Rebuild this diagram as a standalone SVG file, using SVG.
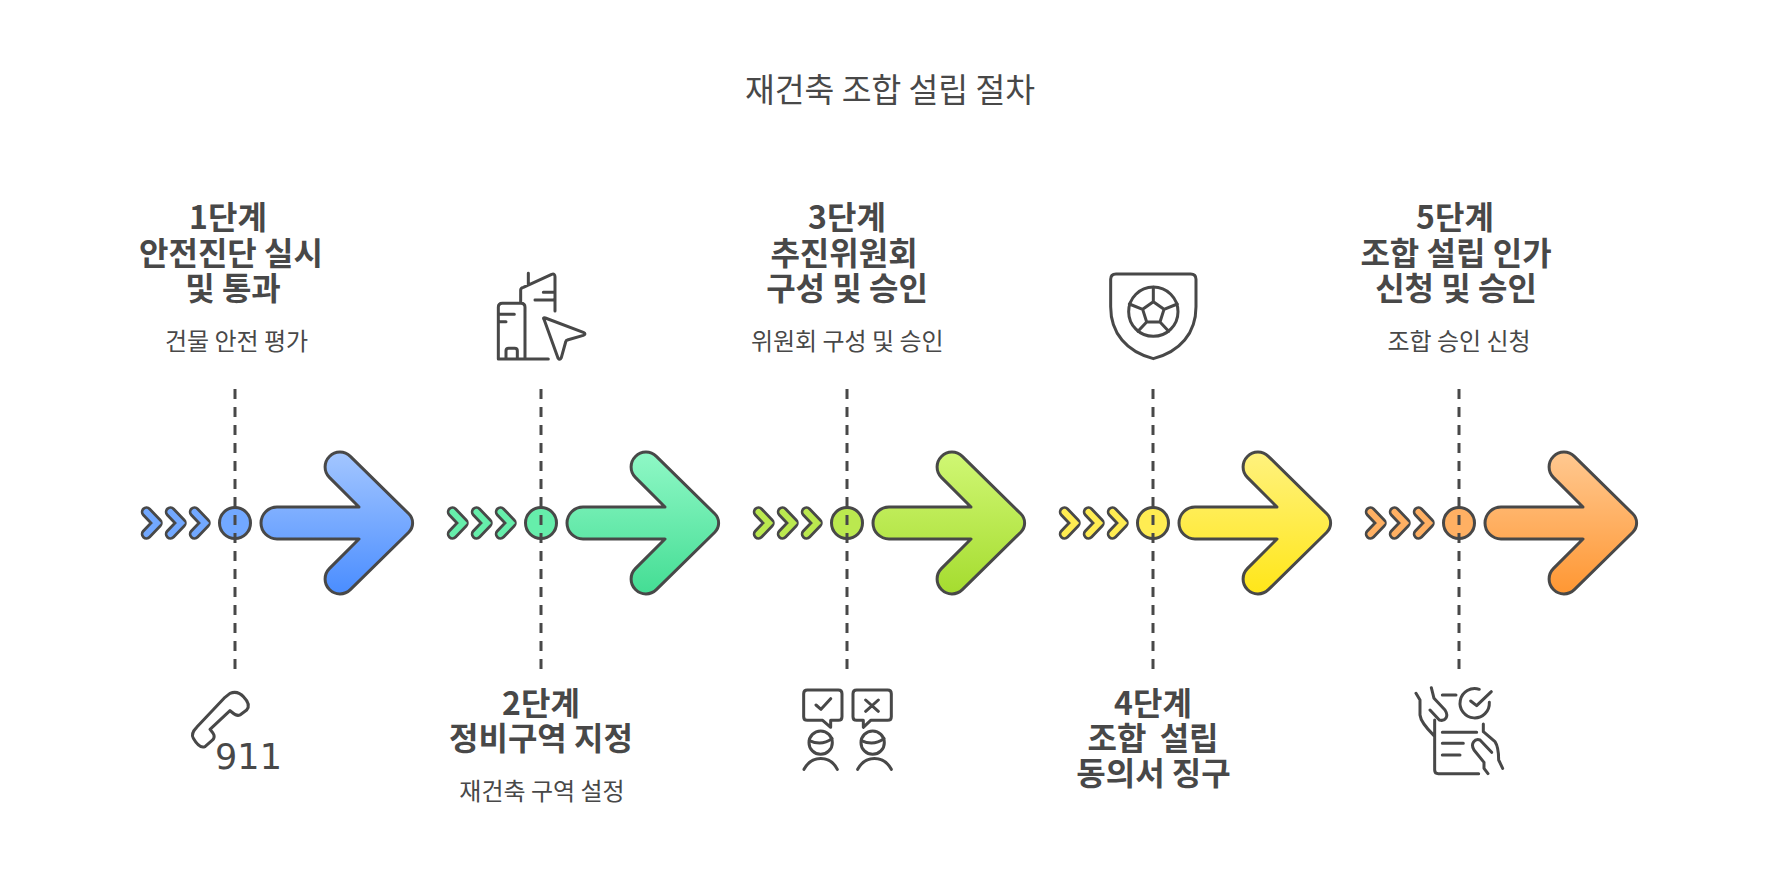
<svg xmlns="http://www.w3.org/2000/svg" width="1779" height="885" viewBox="0 0 1779 885">
<style>
text{font-family:"Noto Sans CJK KR","Noto Sans",sans-serif;fill:#484848;text-anchor:middle}
.t{font-size:32.400px}.h{font-size:32px;font-weight:700}.s{font-size:24px}
.o{stroke:#484848;stroke-width:3;stroke-linecap:round;stroke-linejoin:round}
.ic{fill:none;stroke:#484848;stroke-width:9;stroke-linecap:round;stroke-linejoin:round}
.d{fill:none;stroke:#484848;stroke-width:3;stroke-dasharray:10 8}
</style>
<defs>
<linearGradient id="g1" x1="0" y1="0" x2="0" y2="1"><stop offset="0" stop-color="#a3c6ff"/><stop offset="1" stop-color="#4a8dff"/></linearGradient>
<linearGradient id="g2" x1="0" y1="0" x2="0" y2="1"><stop offset="0" stop-color="#8ff8c6"/><stop offset="1" stop-color="#44dd94"/></linearGradient>
<linearGradient id="g3" x1="0" y1="0" x2="0" y2="1"><stop offset="0" stop-color="#d0f774"/><stop offset="1" stop-color="#a5dc2f"/></linearGradient>
<linearGradient id="g4" x1="0" y1="0" x2="0" y2="1"><stop offset="0" stop-color="#fff27e"/><stop offset="1" stop-color="#ffe619"/></linearGradient>
<linearGradient id="g5" x1="0" y1="0" x2="0" y2="1"><stop offset="0" stop-color="#ffc890"/><stop offset="1" stop-color="#ff9733"/></linearGradient>
<path id="arrow" d="M277 507H359L329.350 477.350A14.850 14.850 0 0 1 350.350 456.350L408.800 513.800A13 13 0 0 1 408.800 532.200L350.350 589.650A14.850 14.850 0 0 1 329.350 568.650L359 539H277A16 16 0 0 1 277 507Z"/>
<g id="ch" fill="none" stroke-linecap="round" stroke-linejoin="round">
<path d="M147.500 512L158 523L147.500 534" stroke="#484848" stroke-width="11.500"/>
<path d="M147.500 512L158 523L147.500 534" stroke-width="6" stroke-linejoin="miter"/>
</g>
</defs>
<rect width="1779" height="885" fill="#fff"/>
<text class="t" x="890" y="102">재건축 조합 설립 절차</text>

<g id="step1">
<use class="o" href="#arrow" fill="url(#g1)"/>
<use href="#ch" x="-1" stroke="#72a8ff"/><use href="#ch" x="23" stroke="#72a8ff"/><use href="#ch" x="47" stroke="#72a8ff"/>
<circle class="o" cx="235" cy="523" r="15.500" fill="#72a8ff"/>
<text class="h" x="228" y="229">1단계</text>
<text class="h" x="231" y="265">안전진단 실시</text>
<text class="h" x="233" y="300">및 통과</text>
<text class="s" x="236.500" y="350">건물 안전 평가</text>
<g transform="translate(160 670) scale(.3333)"><path class="ic" d="M210 70C225 64 240 68 252 82C266 96 268 110 260 120L240 135C230 140 222 132 210 122L150 178C160 190 168 198 158 210L135 230C125 234 112 226 100 205C94 195 97 185 110 172L195 82Z"/></g>
<text x="248.500" y="769" style="font-family:'DejaVu Sans',sans-serif;font-size:35px">911</text>
</g>

<g id="step2">
<use class="o" href="#arrow" x="306" fill="url(#g2)"/>
<use href="#ch" x="305" stroke="#66eeab"/><use href="#ch" x="329" stroke="#66eeab"/><use href="#ch" x="353" stroke="#66eeab"/>
<circle class="o" cx="541" cy="523" r="15.500" fill="#66eeab"/>
<text class="h" x="541" y="715">2단계</text>
<text class="h" x="541" y="750">정비구역 지정</text>
<text class="s" x="542" y="800">재건축 구역 설정</text>
<g transform="translate(480 260) scale(.3333)" class="ic"><path d="M55 297V142Q55 130 67 130H123Q135 130 135 142V297M55 297H205M60 163H103M60 185H78M78 295V272Q78 265 86 265H104Q112 265 112 272V295M122 130V90Q122 84 130 82L215 43Q225 40 225 50V153M145 40V75M190 97H220M165 120H220M192 178Q188 172 196 174L310 217Q320 222 310 226L262 240Q258 241 257 246L244 293Q240 302 234 294Z"/></g>
</g>

<g id="step3">
<use class="o" href="#arrow" x="612" fill="url(#g3)"/>
<use href="#ch" x="611" stroke="#bbe94f"/><use href="#ch" x="635" stroke="#bbe94f"/><use href="#ch" x="659" stroke="#bbe94f"/>
<circle class="o" cx="847" cy="523" r="15.500" fill="#bbe94f"/>
<text class="h" x="847" y="229">3단계</text>
<text class="h" x="844" y="265">추진위원회</text>
<text class="h" x="847" y="300">구성 및 승인</text>
<text class="s" x="847.300" y="350">위원회 구성 및 승인</text>
<g transform="translate(780 670) scale(.3333)" class="ic"><path d="M82 60H175Q186 60 186 71V140Q186 151 175 151H152V172L128 151H82Q71 151 71 140V71Q71 60 82 60ZM108 105L123 118L152 86M230 60H323Q334 60 334 71V140Q334 151 323 151H272L250 172V151H230Q219 151 219 140V71Q219 60 230 60ZM257 90L295 124M295 90L257 124M72 298C95 255 150 255 172 298M233 298C256 255 311 255 334 298"/><circle cx="122" cy="218" r="35"/><circle cx="278" cy="218" r="35"/><path d="M88 212C110 222 135 222 156 205M244 212C266 222 291 222 312 205"/></g>
</g>

<g id="step4">
<use class="o" href="#arrow" x="918" fill="url(#g4)"/>
<use href="#ch" x="917" stroke="#ffec52"/><use href="#ch" x="941" stroke="#ffec52"/><use href="#ch" x="965" stroke="#ffec52"/>
<circle class="o" cx="1153" cy="523" r="15.500" fill="#ffec52"/>
<text class="h" x="1153" y="715">4단계</text>
<text class="h" x="1153" y="750" style="word-spacing:6px">조합 설립</text>
<text class="h" x="1153.500" y="785">동의서 징구</text>
<g transform="translate(1090 260) scale(.3333)" class="ic"><path d="M78 42H302Q318 42 318 58V140C318 220 270 275 190 296C110 275 62 220 62 140V58Q62 42 78 42Z"/><circle cx="190" cy="155" r="74"/><path d="M190 125L222 148L210 186H170L158 148ZM190 125V82M222 148L262 132M210 186L236 214M170 186L144 214M158 148L118 132"/></g>
</g>

<g id="step5">
<use class="o" href="#arrow" x="1224" fill="url(#g5)"/>
<use href="#ch" x="1223" stroke="#ffb063"/><use href="#ch" x="1247" stroke="#ffb063"/><use href="#ch" x="1271" stroke="#ffb063"/>
<circle class="o" cx="1459" cy="523" r="15.500" fill="#ffb063"/>
<text class="h" x="1455" y="229">5단계</text>
<text class="h" x="1456" y="265">조합 설립 인가</text>
<text class="h" x="1456" y="300">신청 및 승인</text>
<text class="s" x="1459" y="350">조합 승인 신청</text>
<g transform="translate(1400 675) scale(.3333)" class="ic"><path d="M48 55L60 75V120C62 140 80 160 102 182M94 38L102 70L135 105C148 125 135 140 118 135L90 105M104 135V285Q104 296 115 296H236M127 60H168M127 172H230M127 205H190M127 240H180M250 147V170L285 200C295 215 296 240 296 255L308 280M252 262L222 225C210 205 225 190 240 195L275 232M252 262V280L264 296"/><path d="M268 82A44 44 0 1 1 238 43M212 78L230 92L274 50"/></g>
</g>

<g id="connectors">
<path class="d" d="M235 389V670"/>
<path class="d" d="M541 389V670"/>
<path class="d" d="M847 389V670"/>
<path class="d" d="M1153 389V670"/>
<path class="d" d="M1459 389V670"/>
</g>
</svg>
